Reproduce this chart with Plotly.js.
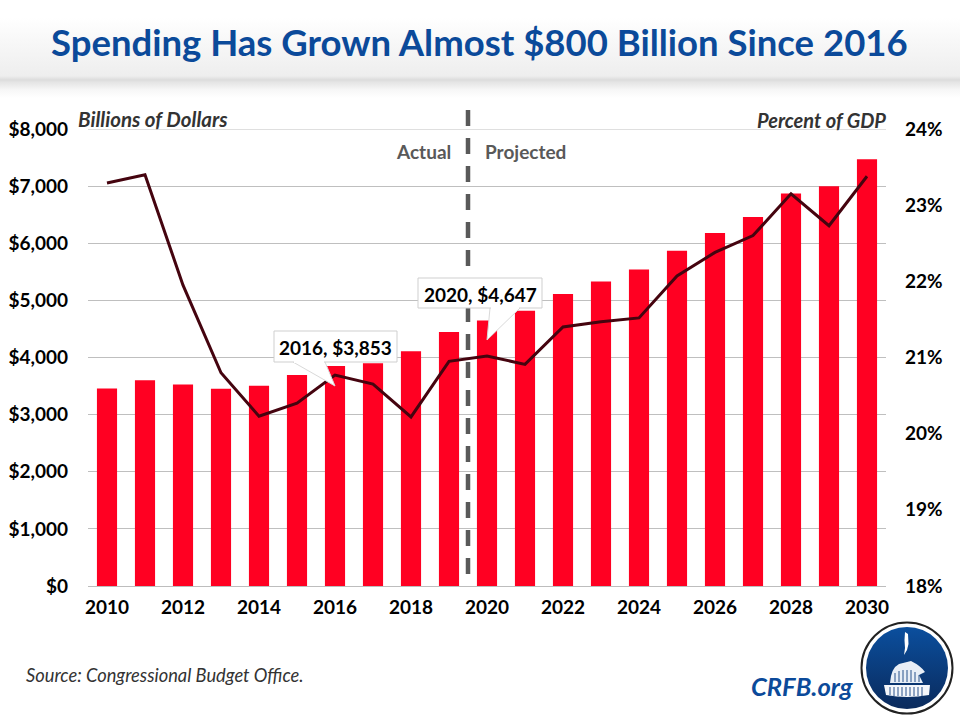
<!DOCTYPE html>
<html>
<head>
<meta charset="utf-8">
<script src="https://cdn.plot.ly/plotly-3.0.1.min.js"></script>
<style>
html,body{margin:0;padding:0;background:#fff;}
#wrap{position:relative;width:960px;height:720px;overflow:hidden;
background:linear-gradient(to bottom,#fff 0,#fff 18px,#f8f8f8 40px,#eeeeee 76px,#dcdcdc 80px,#e4e4e4 82px,#f7f7f7 90px,#fff 98px);}
#chart{position:absolute;left:0;top:0;width:960px;height:720px;}
#logo{position:absolute;left:859px;top:620px;width:96px;height:96px;}
</style>
</head>
<body>
<div id="wrap">
<div id="chart"></div>
<svg id="logo" viewBox="0 0 96 96">
<defs><linearGradient id="lg" x1="0" y1="0" x2="0" y2="1">
<stop offset="0" stop-color="#0b4f9e"/><stop offset="1" stop-color="#0a2a5c"/></linearGradient></defs>
<circle cx="48" cy="48" r="45.5" fill="#fff" stroke="#222" stroke-width="2"/>
<circle cx="48" cy="48" r="41" fill="url(#lg)"/>
<path d="M46 12 L49 14 L49.5 24 L48 30 L45 35 L46 28 L45.5 20 Z" fill="#fff"/>
<path d="M31 63 Q32 48 40 44 L52 41 Q62 46 66 52 L60 55 L64 63 Z" fill="#e8eef6"/>
<path d="M25 65 L71 65 L70 75 Q48 79 27 75 Z" fill="#f4f6fa"/>
<g stroke="#12407f" stroke-width="0.9">
<path d="M36 53V62M40 51V62M44 50V62M48 50V62M52 50V62M56 52V62M60 55V62"/>
<path d="M31 67V75M35 67V76M39 67V76M43 67V76M47 67V76M51 67V76M55 67V76M59 67V76M63 67V76"/>
</g>
</svg>
</div>
<script>
const years = [2010,2011,2012,2013,2014,2015,2016,2017,2018,2019,2020,2021,2022,2023,2024,2025,2026,2027,2028,2029,2030];
const spending = [3457,3603,3527,3455,3506,3692,3853,3900,4109,4447,4647,4820,5110,5330,5540,5870,6180,6460,6870,7000,7470];
const pctGDP = [23.29,23.40,21.95,20.80,20.23,20.40,20.77,20.65,20.22,20.95,21.02,20.91,21.40,21.47,21.52,22.07,22.38,22.60,23.15,22.73,23.38];
const xTicks = [2010,2012,2014,2016,2018,2020,2022,2024,2026,2028,2030];
const leftTicks = [0,1000,2000,3000,4000,5000,6000,7000,8000];
const leftLabels = ['$0','$1,000','$2,000','$3,000','$4,000','$5,000','$6,000','$7,000','$8,000'];
const rightTicks = [18,19,20,21,22,23,24];
const rightLabels = ['18%','19%','20%','21%','22%','23%','24%'];
const FONT = 'Lato, "Open Sans", sans-serif';
const traces = [
 {type:'bar',x:years,y:spending,marker:{color:'#ff0022',line:{width:0}},width:0.53,hoverinfo:'skip'},
 {type:'scatter',mode:'lines',x:years,y:pctGDP,yaxis:'y2',line:{color:'#45040f',width:3},hoverinfo:'skip'}
];
function txt(text,x,y,size,color,extra){
 return Object.assign({text:text,xref:'paper',yref:'paper',x:x,y:y,showarrow:false,
  font:{family:FONT,size:size,color:color}},extra||{});
}
const W=798,H=457,L=88,T=129;
const px=v=>(v-L)/W, py=v=>1-(v-T)/H;
function box(x0,x1,y0,y1){
 return {type:'rect',xref:'paper',yref:'paper',layer:'above',x0:px(x0),x1:px(x1),y0:py(y1),y1:py(y0),fillcolor:'#fff',line:{color:'#cfcfcf',width:1}};
}
function tail(a,b,tipX,tipY,baseY){
 return {type:'path',xref:'paper',yref:'paper',layer:'above',
  path:`M ${px(a)} ${py(baseY)} L ${px(tipX)} ${py(tipY)} L ${px(b)} ${py(baseY)}`,
  fillcolor:'#fff',line:{color:'#d9d9d9',width:1}};
}
function seam(a,b,y){
 return {type:'line',xref:'paper',yref:'paper',layer:'above',x0:px(a+1),x1:px(b-1),y0:py(y),y1:py(y),line:{color:'#fff',width:2}};
}
const layout = {
 width:960,height:720,showlegend:false,
 paper_bgcolor:'rgba(0,0,0,0)',plot_bgcolor:'rgba(0,0,0,0)',
 margin:{l:L,r:960-L-W,t:T,b:720-T-H,pad:0},
 bargap:0.47,
 font:{family:FONT,color:'#000'},
 xaxis:{range:[2009.5,2030.5],tickvals:xTicks,ticktext:xTicks.map(String),ticks:'',showgrid:false,
  showline:true,linecolor:'#bdbdbd',linewidth:1,zeroline:false,ticklabelstandoff:4,
  tickfont:{family:FONT,size:19,color:'#000',weight:700},automargin:false},
 yaxis:{range:[0,8000],tickvals:leftTicks,ticktext:leftLabels,ticks:'',showgrid:true,gridcolor:'#bfbfbf',gridwidth:1,
  zeroline:false,showline:false,tickfont:{family:FONT,size:19,color:'#000',weight:700},ticklabelstandoff:19,automargin:false},
 yaxis2:{overlaying:'y',side:'right',range:[18,24],tickvals:rightTicks,ticktext:rightLabels,ticks:'',showgrid:false,
  zeroline:false,showline:false,tickfont:{family:FONT,size:19,color:'#000',weight:700},ticklabelstandoff:18,automargin:false},
 shapes:[
  {type:'line',xref:'paper',yref:'y',x0:0,x1:1,y0:8000,y1:8000,layer:'below',line:{color:'#bfbfbf',width:1}},
  {type:'line',xref:'x',yref:'paper',x0:2019.5,x1:2019.5,y0:py(110),y1:0,layer:'above',line:{color:'#595959',width:4.5,dash:'16px,12px'}},
  tail(293,325,335,386,362), box(274,397,331,362), seam(293,325,362),
  tail(490,520,487,340,308), box(418,542,278,308), seam(490,520,308)
 ],
 annotations:[
  txt('<b>Spending Has Grown Almost $800 Billion Since 2016</b>',px(479),py(42),36.5,'#0b4a9a',{xanchor:'center',yanchor:'middle'}),
  txt('<b><i>Billions of Dollars</i></b>',px(78),py(119),20.5,'#333',{xanchor:'left',yanchor:'middle',xshift:-2}),
  txt('<b><i>Percent of GDP</i></b>',px(886),py(120),20,'#333',{xanchor:'right',yanchor:'middle',xshift:2}),
  txt('<b>Actual</b>',px(451),py(151),19,'#595959',{xanchor:'right',yanchor:'middle',xshift:2}),
  txt('<b>Projected</b>',px(485),py(151),19,'#595959',{xanchor:'left',yanchor:'middle',xshift:-2}),
  txt('<i>Source: Congressional Budget Office.</i>',px(26),py(675),18.3,'#333',{xanchor:'left',yanchor:'middle',xshift:-2}),
  txt('<b><i>CRFB.org</i></b>',px(854),py(686),25.5,'#0b4a9a',{xanchor:'right',yanchor:'middle',xshift:2}),
  txt('<b>2016, $3,853</b>',px(335.5),py(347),19,'#000',{xanchor:'center',yanchor:'middle'}),
  txt('<b>2020, $4,647</b>',px(480),py(294),19,'#000',{xanchor:'center',yanchor:'middle'})
 ]
};
Plotly.newPlot('chart',traces,layout,{displayModeBar:false,staticPlot:true});
</script>
</body>
</html>
